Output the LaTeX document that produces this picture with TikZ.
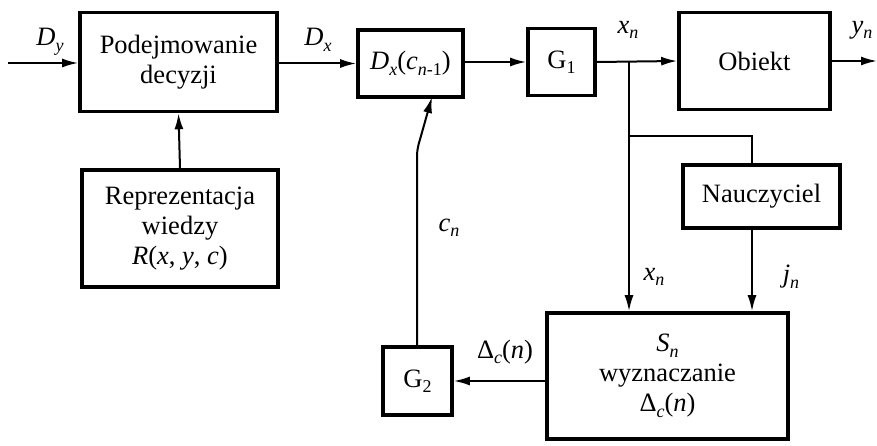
\documentclass[tikz,border=0pt]{standalone}
\usepackage{fontspec}
\setmainfont{Liberation Serif}
\usetikzlibrary{arrows.meta,positioning}
\newcommand{\sbs}[1]{\raisebox{-0.45ex}{\fontsize{18}{18}\selectfont #1}}
\newcommand{\iv}[1]{\textit{#1}}
\begin{document}
\begin{tikzpicture}[x=1pt,y=-1pt,
  box/.style={draw,line width=3.6pt,rectangle,align=center,inner sep=0pt,
    font=\fontsize{26.5}{30}\selectfont},
  conn/.style={line width=2pt,-{Latex[length=16pt,width=9pt]}},
  plain/.style={line width=2pt},
  lbl/.style={font=\fontsize{26.5}{30}\selectfont,inner sep=0pt}]
\useasboundingbox (0,0) rectangle (877,446);
\node[box,minimum width=197pt,minimum height=99pt] (pd) at (178.5,62) {Podejmowanie\\decyzji};
\node[box,minimum width=105pt,minimum height=67pt] (dx) at (410.5,63.5) {\iv{D}\sbs{\iv{x}}(\iv{c}\sbs{\iv{n}-1})};
\node[box,minimum width=67pt,minimum height=67pt] (g1) at (561.5,62) {G\sbs{1}};
\node[box,minimum width=151pt,minimum height=97pt] (ob) at (754.5,61) {Obiekt};
\node[box,minimum width=196pt,minimum height=117pt] (rw) at (180,228.5) {Reprezentacja\\wiedzy\\\iv{R}(\iv{x}, \iv{y}, \iv{c})};
\node[box,minimum width=157pt,minimum height=63pt] (na) at (761.5,196.5) {Nauczyciel};
\node[box,minimum width=241pt,minimum height=126pt] (sn) at (667.5,376) {\iv{S}\sbs{\iv{n}}\\wyznaczanie\\Δ\sbs{\iv{c}}(\iv{n})};
\node[box,minimum width=69pt,minimum height=68pt] (g2) at (417.5,381) {G\sbs{2}};
% coordinates
\coordinate (in) at (8,63);
\coordinate (out) at (877,61);
\coordinate (jx) at (629,61);
\coordinate (jb) at (629,136);
\coordinate (nb) at (752,136);
\coordinate (bend) at (417,150);
\coordinate (dxb) at (432,97);
% connectors
\draw[conn] (in) -- (in -| pd.west);
\draw[conn] (pd.east |- dx) -- (dx.west);
\draw[conn] (dx.east |- g1) -- (g1.west);
\draw[conn] (g1.east) -- (ob.west);
\draw[conn] (ob.east) -- (out);
\draw[conn] (jx) -- (jx |- sn.north);
\draw[plain] (jb) -- (nb) -- (nb |- na.north);
\draw[conn] (nb |- na.south) -- (nb |- sn.north);
\draw[conn] (sn.west |- g2) -- (g2.east);
\draw[conn,rounded corners=6pt] (g2.north -| bend) -- (bend) -- (dxb);
\draw[conn] (rw.north) -- (pd.south);
% labels
\node[lbl] (ldy) at (50,42) {\iv{D}\sbs{\iv{y}}};
\node[lbl] (ldx) at (318,40) {\iv{D}\sbs{\iv{x}}};
\node[lbl] (lxn) at (628,30) {\iv{x}\sbs{\iv{n}}};
\node[lbl] (lyn) at (862,30) {\iv{y}\sbs{\iv{n}}};
\node[lbl] (lcn) at (449,228) {\iv{c}\sbs{\iv{n}}};
\node[lbl] (lxn2) at (654,277) {\iv{x}\sbs{\iv{n}}};
\node[lbl] (ljn) at (791,277) {\iv{j}\sbs{\iv{n}}};
\node[lbl] (ldc) at (505,352) {Δ\sbs{\iv{c}}(\iv{n})};
\end{tikzpicture}
\end{document}
